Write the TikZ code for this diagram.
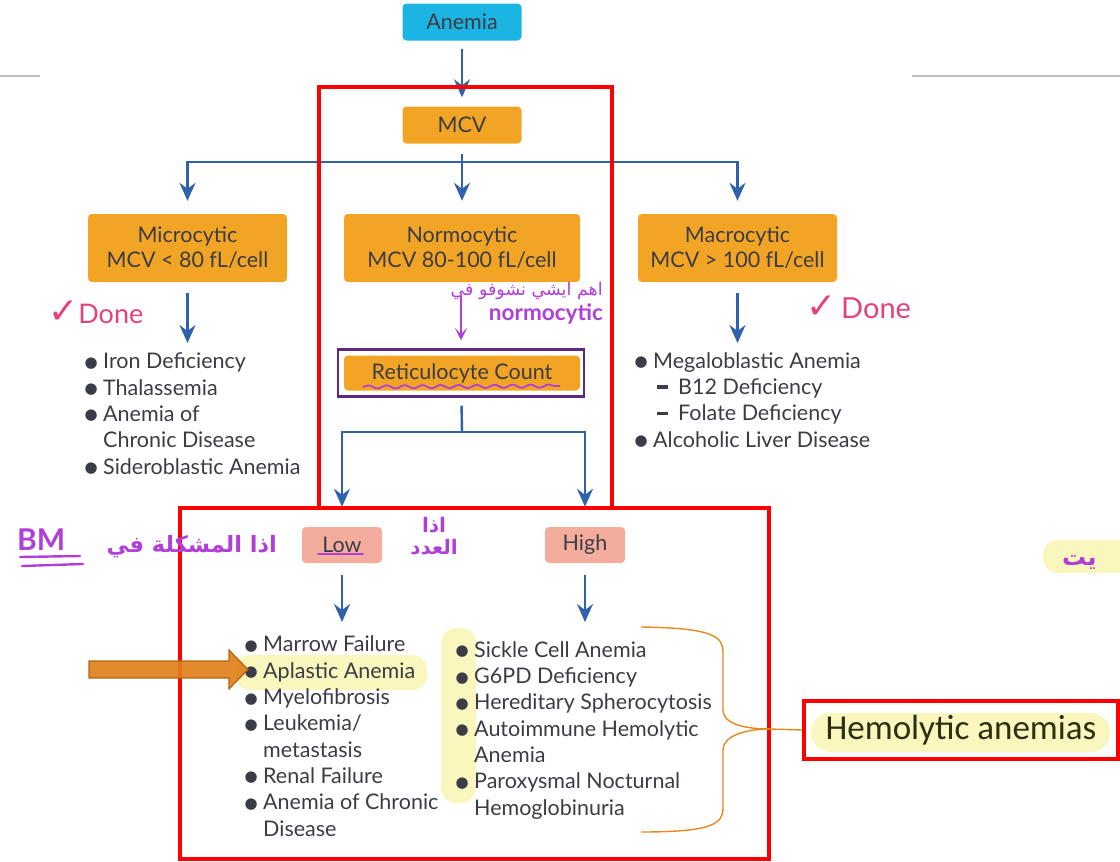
\documentclass[tikz,border=0pt]{standalone}
\usepackage{fontspec}
\setmainfont{Lato}
\newfontfamily\arabicfont[Script=Arabic]{DejaVu Sans}
\newfontfamily\symfont{DejaVu Sans}
\newfontfamily\calibrifont{Carlito}
\TeXXeTstate=1
\usetikzlibrary{arrows.meta,decorations.pathmorphing}
\definecolor{flowblue}{HTML}{2F62AB}
\definecolor{boxorange}{HTML}{F2A424}
\definecolor{anemiacyan}{HTML}{1CB4E3}
\definecolor{lowpink}{HTML}{F4AD9C}
\definecolor{textgray}{HTML}{3C3C46}
\definecolor{markred}{HTML}{FF0000}
\definecolor{penpurple}{HTML}{B03FD8}
\definecolor{framepurple}{HTML}{5B2A86}
\definecolor{donepink}{HTML}{E6427A}
\definecolor{hiyellow}{HTML}{F9F6BE}
\definecolor{arroworange}{HTML}{E0801A}
\definecolor{braceorange}{HTML}{E8891E}
\definecolor{olivetext}{HTML}{2E2E10}
\newcommand{\itm}{\makebox[14pt][l]{\hspace{-4.5pt}\raisebox{1.5pt}{\symfont\fontsize{15}{15}\selectfont ●}}}
\newcommand{\cont}{\hspace*{14pt}}
\newcommand{\subitm}{\hspace*{18pt}\makebox[21pt][l]{\rule[5.5pt]{11pt}{3.5pt}}}
\newcommand{\tick}{{\symfont\fontsize{36}{36}\selectfont ✓}}
\begin{document}
\begin{tikzpicture}[x=1pt, y=-1pt,
    box/.style={rounded corners=4pt, fill=boxorange, text=textgray, align=center, inner sep=0pt, font=\fontsize{21.5}{25}\selectfont},
    itemlist/.style={anchor=base west, align=left, inner sep=0pt, text=textgray, font=\fontsize{21.5}{26.3}\selectfont},
    flow/.style={flowblue, line width=2.4pt, -{Stealth[length=18pt, width=16pt, inset=6pt]}},
    flowline/.style={flowblue, line width=2.4pt},
    redframe/.style={draw=markred, line width=4.5pt},
    pen/.style={text=penpurple, inner sep=0pt},
    hilite/.style={fill=hiyellow, rounded corners=15pt}]
    \useasboundingbox (0,0) rectangle (1120,862);
    % 1. gray rules at the top
    \draw[gray!50, line width=2pt] (0,76) -- (40,76);
    \draw[gray!50, line width=2pt] (912,76) -- (1120,76);
    % 2. yellow highlights (under the text)
    \fill[hilite] (235,655) rectangle (427,690);
    \fill[hilite] (441,628) rectangle (476,803);
    \fill[hilite] (1043,540) rectangle (1135,573);
    \fill[hilite, rounded corners=19pt] (811,713) rectangle (1110,752);
    % 3. boxes
    \node[box, fill=anemiacyan, minimum width=119pt, minimum height=37pt] (anemia) at (462,22) {Anemia};
    \node[box, minimum width=119pt, minimum height=37pt] (mcv) at (462,125) {MCV};
    \node[box, minimum width=199pt, minimum height=68pt] (micro) at (187.5,248) {Microcytic\\MCV < 80 fL/cell};
    \node[box, minimum width=236pt, minimum height=68pt] (normo) at (462,248) {Normocytic\\MCV 80-100 fL/cell};
    \node[box, minimum width=199pt, minimum height=68pt] (macro) at (737.5,248) {Macrocytic\\MCV > 100 fL/cell};
    \node[draw=framepurple, line width=2.5pt, minimum width=246pt, minimum height=47pt] (retiframe) at (461,373) {};
    \node[box, minimum width=236pt, minimum height=35pt] (reti) at (462,373) {Reticulocyte Count};
    \node[box, fill=lowpink, minimum width=80pt, minimum height=36pt] (low) at (342,545) {Low};
    \node[box, fill=lowpink, minimum width=80pt, minimum height=36pt] (high) at (585,545) {High};
    % 4. lists (anchored on the last line)
    \node[itemlist] (microlist) at (89,474) {\itm Iron Deficiency\\\itm Thalassemia\\\itm Anemia of\\\cont Chronic Disease\\\itm Sideroblastic Anemia};
    \node[itemlist] (macrolist) at (639,447) {\itm Megaloblastic Anemia\\\subitm B12 Deficiency\\\subitm Folate Deficiency\\\itm Alcoholic Liver Disease};
    \node[itemlist] (lowlist) at (249,836) {\itm Marrow Failure\\\itm Aplastic Anemia\\\itm Myelofibrosis\\\itm Leukemia/\\\cont metastasis\\\itm Renal Failure\\\itm Anemia of Chronic\\\cont Disease};
    \node[itemlist] (highlist) at (460,815) {\itm Sickle Cell Anemia\\\itm G6PD Deficiency\\\itm Hereditary Spherocytosis\\\itm Autoimmune Hemolytic\\\cont Anemia\\\itm Paroxysmal Nocturnal\\\cont Hemoglobinuria};
    % 5. blue connectors
    \coordinate (split) at (462,162);
    \coordinate (microend) at (187.5,343);
    \coordinate (macroend) at (737.5,343);
    \coordinate (retisplit) at (462,432);
    \coordinate (lowend) at (342,622);
    \coordinate (highend) at (585,622);
    \draw[flow, shorten <=8pt, shorten >=9pt] (anemia) -- (mcv);
    \draw[flowline, shorten <=10pt] (mcv) -- (split);
    \draw[flow, shorten >=13pt] (split) -| (micro);
    \draw[flow, shorten >=13pt] (split) -- (normo);
    \draw[flow, shorten >=13pt] (split) -| (macro);
    \draw[flow, shorten <=11pt] (micro) -- (microend);
    \draw[flow, shorten <=11pt] (macro) -- (macroend);
    \draw[flowline, shorten <=8pt] (retiframe) -- (retisplit);
    \draw[flow, shorten >=20pt] (retisplit) -| (low);
    \draw[flow, shorten >=20pt] (retisplit) -| (high);
    \draw[flow, shorten <=12pt] (low) -- (lowend);
    \draw[flow, shorten <=12pt] (high) -- (highend);
    % 6. red frames
    \draw[redframe] (319,87) rectangle (612,508);
    \draw[redframe] (180,508) rectangle (769,859);
    % 7. brace to the hemolytic box
    \node[draw=markred, line width=4pt, minimum width=314pt, minimum height=58pt, inner sep=0pt, text=olivetext, font=\calibrifont\fontsize{35}{38}\selectfont] (hemo) at (961,730) {Hemolytic anemias};
    \coordinate (bracetop) at (641,627);
    \coordinate (bracebot) at (641,832);
    \coordinate (bracetip) at (770,729);
    \draw[braceorange, line width=1.4pt] (bracetop) .. controls (712,628) and (723,636) .. (723,652) -- (723,710) .. controls (723,724) and (745,729) .. (bracetip) -- (hemo.west);
    \draw[braceorange, line width=1.4pt] (bracebot) .. controls (712,832) and (723,824) .. (723,808) -- (723,750) .. controls (723,736) and (745,729) .. (bracetip);
    % 8. big orange arrow
    \fill[arroworange, fill opacity=0.92, draw=arroworange!80!black, line width=1.2pt] (89,661) -- (229,661) -- (229,650) -- (248,669.5) -- (229,689) -- (229,678) -- (89,678) -- cycle;
    % 9. handwritten notes
    \node[pen, anchor=base east, font=\arabicfont\fontsize{17.5}{20}\selectfont] (notear) at (603,295) {\beginR اهم ايشي نشوفو في\endR};
    \node[pen, anchor=base east, font=\bfseries\fontsize{22.5}{24}\selectfont] (notenormo) at (603,320) {normocytic};
    \coordinate (notestart) at (461,296);
    \draw[penpurple, line width=2.6pt, -{Stealth[length=12pt, width=12pt, inset=6pt]}, shorten >=8pt] (notestart) -- (notestart |- retiframe.north);
    \draw[penpurple, line width=1.8pt, decorate, decoration={snake, amplitude=1.6pt, segment length=18pt}] (363,387) -- (560,386);
    \draw[penpurple, line width=2pt, line cap=round] (318,553.5) -- (363,553.5);
    \node[pen, anchor=base east, font=\arabicfont\bfseries\fontsize{22.5}{28}\selectfont] (bmnote) at (277,552) {\beginR اذا المشكلة في\endR};
    \node[pen, anchor=base west, font=\bfseries\fontsize{30}{30}\selectfont] (bm) at (17,550) {BM};
    \draw[penpurple, line width=2.4pt, line cap=round] (20,557) -- (80,556);
    \draw[penpurple, line width=2.4pt, line cap=round] (22,566) -- (83,564);
    \node[pen, align=center, font=\arabicfont\bfseries\fontsize{20}{22}\selectfont] (countnote) at (434,536) {\beginR اذا\endR\\\beginR العدد\endR};
    \node[pen, anchor=base west, font=\arabicfont\bfseries\fontsize{24}{28}\selectfont] (cutnote) at (1062,565) {\beginR يت\endR};
    \node[text=donepink, anchor=base west, inner sep=0pt, font=\fontsize{27}{30}\selectfont] (doneleft) at (48,323) {\tick Done};
    \node[text=donepink, anchor=base west, inner sep=0pt, font=\fontsize{29}{30}\selectfont] (doneright) at (806,318) {\tick\,Done};
\end{tikzpicture}
\end{document}
